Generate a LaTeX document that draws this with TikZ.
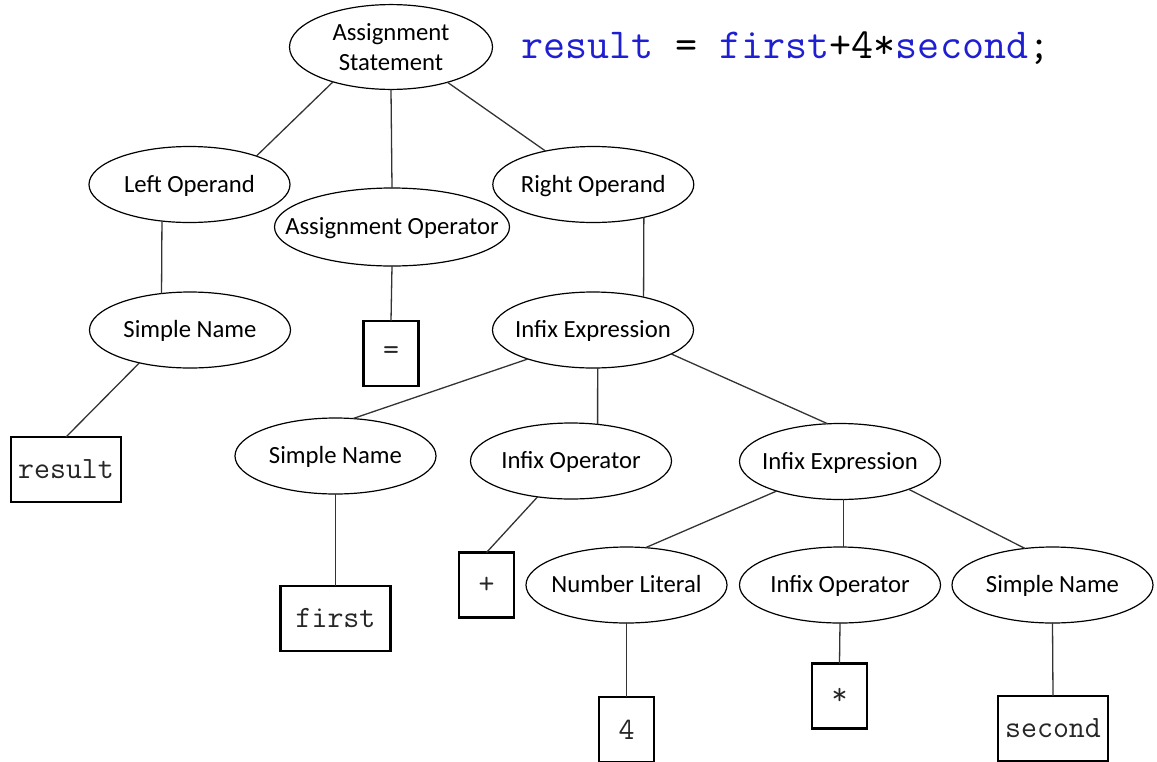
\documentclass[tikz,border=0pt]{standalone}
\usepackage{fontspec}
\setmainfont{Carlito}
\usetikzlibrary{shapes.geometric}
\definecolor{codeblue}{RGB}{30,30,210}
% zero-width wrapper so the label never widens its ellipse
\newcommand\nolen[1]{\makebox[0pt]{#1}}

\begin{document}
\begin{tikzpicture}[x=1pt,y=-1pt,
  ell/.style={ellipse, draw, line width=1.2pt, inner sep=0pt, outer sep=0pt,
    minimum width=201pt, minimum height=76pt, text height=17.3pt, text depth=2pt,
    font=\fontsize{24.7}{30}\selectfont},
  tok/.style={rectangle, draw, line width=2.4pt, inner sep=0pt, outer sep=0pt,
    minimum width=55pt, minimum height=65pt,
    font=\ttfamily\fontsize{31}{34}\selectfont, text=black!85},
  wide/.style={minimum width=110pt},
  link/.style={line width=1.3pt, draw=black!80}]
\useasboundingbox (0,0) rectangle (1157,761);

% source line
\node[anchor=base west, inner sep=0pt] (code) at (521,58)
  {\ttfamily\fontsize{42.8}{46}\selectfont\textcolor{codeblue}{result} = \textcolor{codeblue}{first}+4*\textcolor{codeblue}{second};};

% syntax tree nodes
\node[ell, minimum width=203pt, minimum height=77pt, text height=38.5pt, text depth=21.5pt] (as) at (391,47)
  {\nolen{\begin{tabular}{@{}c@{}}Assignment\\Statement\end{tabular}}};
\node[ell] (lo) at (189.5,184.5) {\nolen{Left Operand}};
\node[ell, minimum width=235pt, minimum height=78pt] (ao) at (392,227) {\nolen{Assignment Operator}};
\node[ell] (ro) at (593.3,184.5) {\nolen{Right Operand}};
\node[ell] (sn1) at (190,330) {\nolen{Simple Name}};
\node[ell] (ie1) at (593,330) {\nolen{Infix Expression}};
\node[ell] (sn2) at (335.5,456) {\nolen{Simple Name}};
\node[ell] (io1) at (571,461) {\nolen{Infix Operator}};
\node[ell] (ie2) at (840,461.5) {\nolen{Infix Expression}};
\node[ell] (nl) at (626.5,585) {\nolen{Number Literal}};
\node[ell] (io2) at (840,585) {\nolen{Infix Operator}};
\node[ell] (sn3) at (1052.5,585) {\nolen{Simple Name}};

% token leaves
\node[tok] (eq) at (391,353.5) {=};
\node[tok, wide] (result) at (66,469.5) {result};
\node[tok, wide] (first) at (335.5,618.5) {first};
\node[tok] (plus) at (486.5,585) {+};
\node[tok] (four) at (626.5,729.5) {4};
\node[tok] (star) at (839.5,696) {*};
\node[tok, wide] (second) at (1053,728.5) {second};

% tree edges
\draw[link] (as.211) -- (lo.23);
\draw[link] (as.south) -- (ao.north);
\draw[link] (as.328) -- (ro.145);
\draw[link] (lo.233) -- (sn1.128);
\draw[link] (ao.south) -- (eq.north);
\draw[link] (ro.327) -- (ie1.33);
\draw[link] (sn1.213) -- (result.north);
\draw[link] (ie1.204) -- (sn2.65);
\draw[link] (ie1.277) -- (io1.54);
\draw[link] (ie1.343) -- (ie2.108);
\draw[link] (sn2.south) -- (first.north);
\draw[link] (io1.227) -- (plus.north);
\draw[link] (ie2.205) -- (nl.63);
\draw[link] (ie2.275) -- (io2.85);
\draw[link] (ie2.338) -- (sn3.127);
\draw[link] (nl.south) -- (four.north);
\draw[link] (io2.south) -- (star.north);
\draw[link] (sn3.south) -- (second.north);
\end{tikzpicture}
\end{document}
